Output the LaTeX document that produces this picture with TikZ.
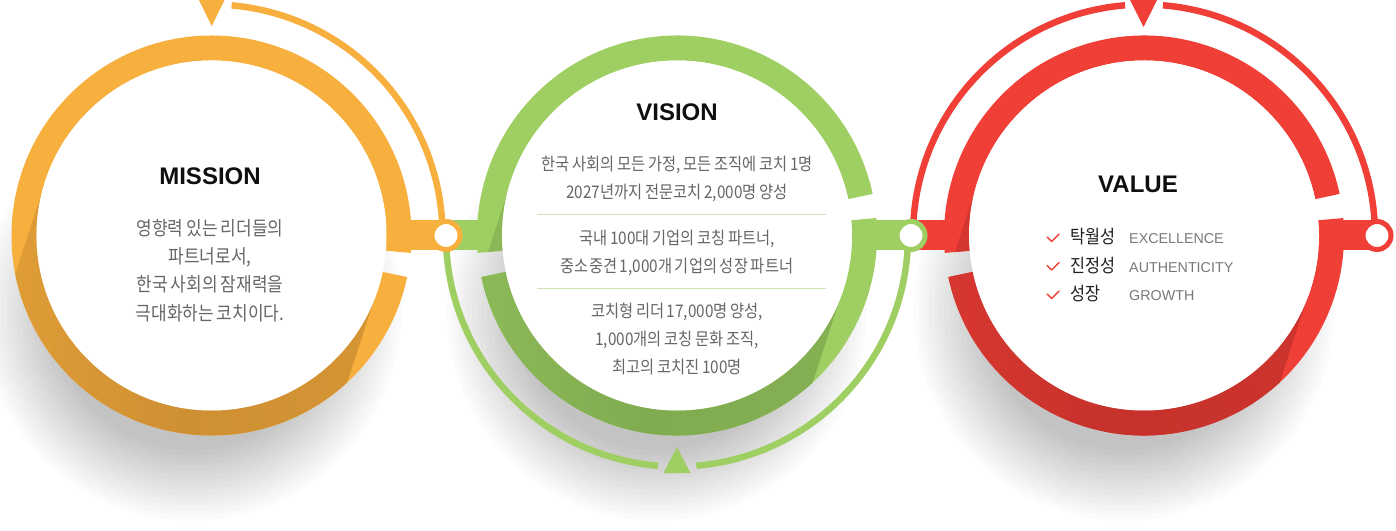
\documentclass[tikz,border=0pt]{standalone}
\usepackage{fontspec}
\setmainfont{Liberation Sans}
\newfontfamily\kr{Noto Sans CJK KR}[FakeStretch=0.88, WordSpace=0.8]
\usetikzlibrary{calc}
\definecolor{olight}{RGB}{247,175,62}
\definecolor{odark}{RGB}{207,144,51}
\definecolor{glight}{RGB}{159,207,99}
\definecolor{gdark}{RGB}{128,171,80}
\definecolor{rlight}{RGB}{239,63,54}
\definecolor{rdark}{RGB}{198,50,44}
\definecolor{sepcol}{RGB}{205,228,178}
\definecolor{txtgray}{RGB}{102,102,102}
\definecolor{engray}{RGB}{120,120,120}
\definecolor{ttlcol}{RGB}{15,15,15}
\tikzset{
  thinarc/.style={line width=6.5pt},
  barline/.style={line width=30pt},
  dotnode/.style={circle, fill=white, draw=#1, line width=5pt, minimum size=28pt, inner sep=0pt, outer sep=0pt},
  ttl/.style={font=\fontsize{24}{24}\selectfont\bfseries, text=ttlcol, inner sep=0pt, anchor=base},
  bodym/.style={font=\kr\fontsize{19.3}{19.3}\selectfont, text=txtgray, inner sep=0pt, anchor=base},
  body/.style={font=\kr\fontsize{17.4}{17.4}\selectfont, text=txtgray, inner sep=0pt, anchor=base},
  vkr/.style={font=\kr\fontsize{18.5}{18.5}\selectfont, text=black!88, inner sep=0pt, anchor=base west},
  ven/.style={font=\fontsize{14.3}{14.3}\selectfont, text=engray, inner sep=0pt, anchor=base west},
  sepline/.style={draw=sepcol, line width=1pt},
  checkline/.style={draw=rlight, line width=1.4pt, line cap=round, line join=round},
}
% #1 centre coordinate, #2 light, #3 dark, #4 ring pieces a/b
\newcommand\ringunit[4]{%
  \begin{scope}[shift={(#1)}]
    \foreach \a/\b in {#4} {
      \fill[#2] (\a:200) arc[start angle=\a, end angle=\b, radius=200]
        -- (\b:175) arc[start angle=\b, end angle=\a, radius=175] -- cycle;
    }
    \begin{scope}
      \clip \foreach \a/\b in {#4} {
        (\a:200) arc[start angle=\a, end angle=\b, radius=200]
        -- (\b:175) arc[start angle=\b, end angle=\a, radius=175] -- cycle };
      \shade[left color=#3!55!#2, right color=#3!85!#2, middle color=#3]
        (-166,54) -- (-212.5,-88.5) -- (119.5,-196.5) -- (166,-54) -- cycle
        (-46.5,-142.5) circle (175);
    \end{scope}
    \fill[white] (0,0) circle (175);
  \end{scope}}
\begin{document}
\begin{tikzpicture}[x=1pt, y=1pt]
\useasboundingbox (0,0) rectangle (1396,530);
\fill[white] (0,0) rectangle (1396,530);
% centres
\coordinate (O) at (211.5,294.5);
\coordinate (G) at (677,294.5);
\coordinate (R) at (1144,294.5);
\coordinate (od) at (446,294.5);
\coordinate (gd) at (911,294.5);
\coordinate (rd) at (1377,294.5);
% shadows
\foreach \c in {O,G,R} {
  \foreach \r in {140,145,...,210} {
    \fill[black, opacity=0.017] ($(\c)+(-20,-75)$) circle (\r);
  }
}
% thin arcs
\draw[thinarc, olight] ($(O)+(85:231)$) arc[start angle=85, end angle=-1, radius=231];
\draw[thinarc, glight] ($(G)+(180:231)$) arc[start angle=180, end angle=265.3, radius=231];
\draw[thinarc, glight] ($(G)+(274.8:231)$) arc[start angle=274.8, end angle=361, radius=231];
\draw[thinarc, rlight] ($(R)+(179:231)$) arc[start angle=179, end angle=94.7, radius=231];
\draw[thinarc, rlight] ($(R)+(85.3:231)$) arc[start angle=85.3, end angle=0, radius=231];
% bars
\draw[barline, olight] (O) -- (od);
\draw[barline, glight] (od) -- (G) -- (gd);
\draw[barline, rlight] (gd) -- (R) -- (rd);
% rings
\ringunit{O}{olight}{odark}{-5/348}
\ringunit{G}{glight}{gdark}{12/185, 192/365}
\ringunit{R}{rlight}{rdark}{12/185, 192/365}
% dots
\node[dotnode=olight] (odot) at (od) {};
\node[dotnode=glight] (gdot) at (gd) {};
\node[dotnode=rlight] (rdot) at (rd) {};
% triangles
\fill[olight] (198,532) -- (225.5,532) -- (211.7,504) -- cycle;
\fill[glight] (663.5,57) -- (690.5,57) -- (677,83) -- cycle;
\fill[rlight] (1129,532) -- (1158,532) -- (1143.5,503) -- cycle;
% MISSION
\node[ttl] (mt) at (210,345) {MISSION};
\node[bodym] (m1) at (210,294.8) {영향력 있는 리더들의};
\node[bodym] (m2) at (210,266.6) {파트너로서,};
\node[bodym] (m3) at (210,238.4) {한국 사회의 잠재력을};
\node[bodym] (m4) at (210,209.8) {극대화하는 코치이다.};
% VISION
\node[ttl] (vt) at (677,409) {VISION};
\node[body] (v1) at (677,359.5) {한국 사회의 모든 가정, 모든 조직에 코치 1명};
\node[body] (v2) at (677,331.5) {2027년까지 전문코치 2,000명 양성};
\coordinate (s1a) at (537,315); \coordinate (s1b) at (826,315);
\draw[sepline] (s1a) -- (s1b);
\node[body] (v3) at (677,285.5) {국내 100대 기업의 코칭 파트너,};
\node[body] (v4) at (677,257.5) {중소중견 1,000개 기업의 성장 파트너};
\coordinate (s2a) at (537,241); \coordinate (s2b) at (826,241);
\draw[sepline] (s2a) -- (s2b);
\node[body] (v5) at (677,212.5) {코치형 리더 17,000명 양성,};
\node[body] (v6) at (677,184.5) {1,000개의 코칭 문화 조직,};
\node[body] (v7) at (677,156.5) {최고의 코치진 100명};
% VALUE
\node[ttl] (lt) at (1138,337) {VALUE};
\foreach \n/\y/\k/\e in {1/286/탁월성/EXCELLENCE, 2/257.5/진정성/AUTHENTICITY, 3/229/성장/GROWTH} {
  \coordinate (c\n a) at (1047,\y+7);
  \coordinate (c\n b) at (1051.5,\y+2.5);
  \coordinate (c\n c) at (1059,\y+10);
  \draw[checkline] (c\n a) -- (c\n b) -- (c\n c);
  \node[vkr] (k\n) at (1070,\y) {\k};
  \node[ven] (e\n) at (1129,\y) {\e};
}
\end{tikzpicture}
\end{document}
